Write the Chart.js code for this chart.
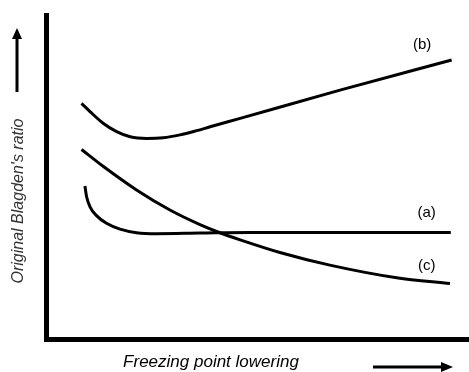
<!DOCTYPE html>
<html>
<head>
<meta charset="utf-8">
<script src="https://cdn.jsdelivr.net/npm/chart.js@4"></script>
<style>
  html, body { margin: 0; padding: 0; background: #fff; }
  #wrap { width: 469px; height: 372px; }
</style>
</head>
<body>
<div id="wrap"><canvas id="chart"></canvas></div>
<script>
// schematic curves (axis range 0..10 both ways)
const curveAX = [0.92, 0.96, 1.04, 1.20, 1.43, 1.75, 2.14, 2.62, 3.64, 4.82, 9.57];
const curveAY = [4.72, 4.39, 4.08, 3.80, 3.57, 3.39, 3.28, 3.25, 3.27, 3.29, 3.29];

const curveBX = [0.84, 1.04, 1.35, 1.67, 1.99, 2.38, 2.77, 3.17, 3.56, 3.88, 4.59, 6.95, 9.59];
const curveBY = [7.27, 7.02, 6.66, 6.40, 6.24, 6.19, 6.21, 6.30, 6.43, 6.55, 6.81, 7.68, 8.61];

const curveCX = [0.84, 1.35, 2.14, 2.93, 3.64, 4.11, 4.59, 5.53, 6.71, 8.29, 9.55];
const curveCY = [5.85, 5.33, 4.60, 3.98, 3.53, 3.28, 3.06, 2.67, 2.28, 1.89, 1.71];

const curveLabels = ['(a)', '(b)', '(c)'];
const labelX = [9.0, 8.89, 9.0];
const labelY = [3.90, 9.07, 2.25];

const xTitle = 'Freezing point lowering';
const yTitle = "Original Blagden's ratio";

const toPoints = (xs, ys) => xs.map((v, i) => ({ x: v, y: ys[i] }));

const lineStyle = {
  borderColor: '#000',
  borderWidth: 3,
  pointRadius: 0,
  fill: false,
  cubicInterpolationMode: 'monotone'
};

// curve labels, axis titles and the two arrows
const annotate = {
  id: 'annotate',
  afterDraw(chart) {
    const { ctx, scales: { x, y } } = chart;
    ctx.save();
    ctx.fillStyle = '#000';
    ctx.strokeStyle = '#000';
    ctx.textAlign = 'center';
    ctx.textBaseline = 'middle';

    ctx.font = '15px "Liberation Sans", Arial, sans-serif';
    curveLabels.forEach((t, i) => {
      ctx.fillText(t, x.getPixelForValue(labelX[i]), y.getPixelForValue(labelY[i]));
    });

    ctx.font = 'italic 17px "Liberation Sans", Arial, sans-serif';
    ctx.fillText(xTitle, 211, 362);
    ctx.save();
    ctx.translate(19, 201);
    ctx.rotate(-Math.PI / 2);
    ctx.font = 'italic 16px "Liberation Sans", Arial, sans-serif';
    ctx.fillStyle = '#333';
    ctx.fillText(yTitle, 0, 0);
    ctx.restore();

    // up arrow
    ctx.lineWidth = 3;
    ctx.beginPath();
    ctx.moveTo(17, 92);
    ctx.lineTo(17, 37);
    ctx.stroke();
    ctx.beginPath();
    ctx.moveTo(17, 28);
    ctx.lineTo(12, 39);
    ctx.lineTo(22, 39);
    ctx.closePath();
    ctx.fill();

    // right arrow
    ctx.beginPath();
    ctx.moveTo(373, 367);
    ctx.lineTo(443, 367);
    ctx.stroke();
    ctx.beginPath();
    ctx.moveTo(453, 367);
    ctx.lineTo(441, 362);
    ctx.lineTo(441, 372);
    ctx.closePath();
    ctx.fill();
    ctx.restore();
  }
};

new Chart(document.getElementById('chart'), {
  type: 'line',
  data: {
    datasets: [
      { label: '(a)', data: toPoints(curveAX, curveAY), ...lineStyle },
      { label: '(b)', data: toPoints(curveBX, curveBY), ...lineStyle },
      { label: '(c)', data: toPoints(curveCX, curveCY), ...lineStyle }
    ]
  },
  options: {
    responsive: true,
    maintainAspectRatio: false,
    animation: false,
    layout: { padding: { top: 15, right: 0, bottom: 0, left: 0 } },
    plugins: {
      legend: { display: false },
      tooltip: { enabled: false }
    },
    scales: {
      x: {
        type: 'linear',
        min: 0,
        max: 10,
        ticks: { display: false },
        grid: { display: false },
        border: { color: '#000', width: 5 },
        afterFit(s) { s.height = 33; }
      },
      y: {
        type: 'linear',
        min: 0,
        max: 10,
        ticks: { display: false },
        grid: { display: false },
        border: { color: '#000', width: 5 },
        afterFit(s) { s.width = 46; }
      }
    }
  },
  plugins: [annotate]
});
</script>
</body>
</html>
